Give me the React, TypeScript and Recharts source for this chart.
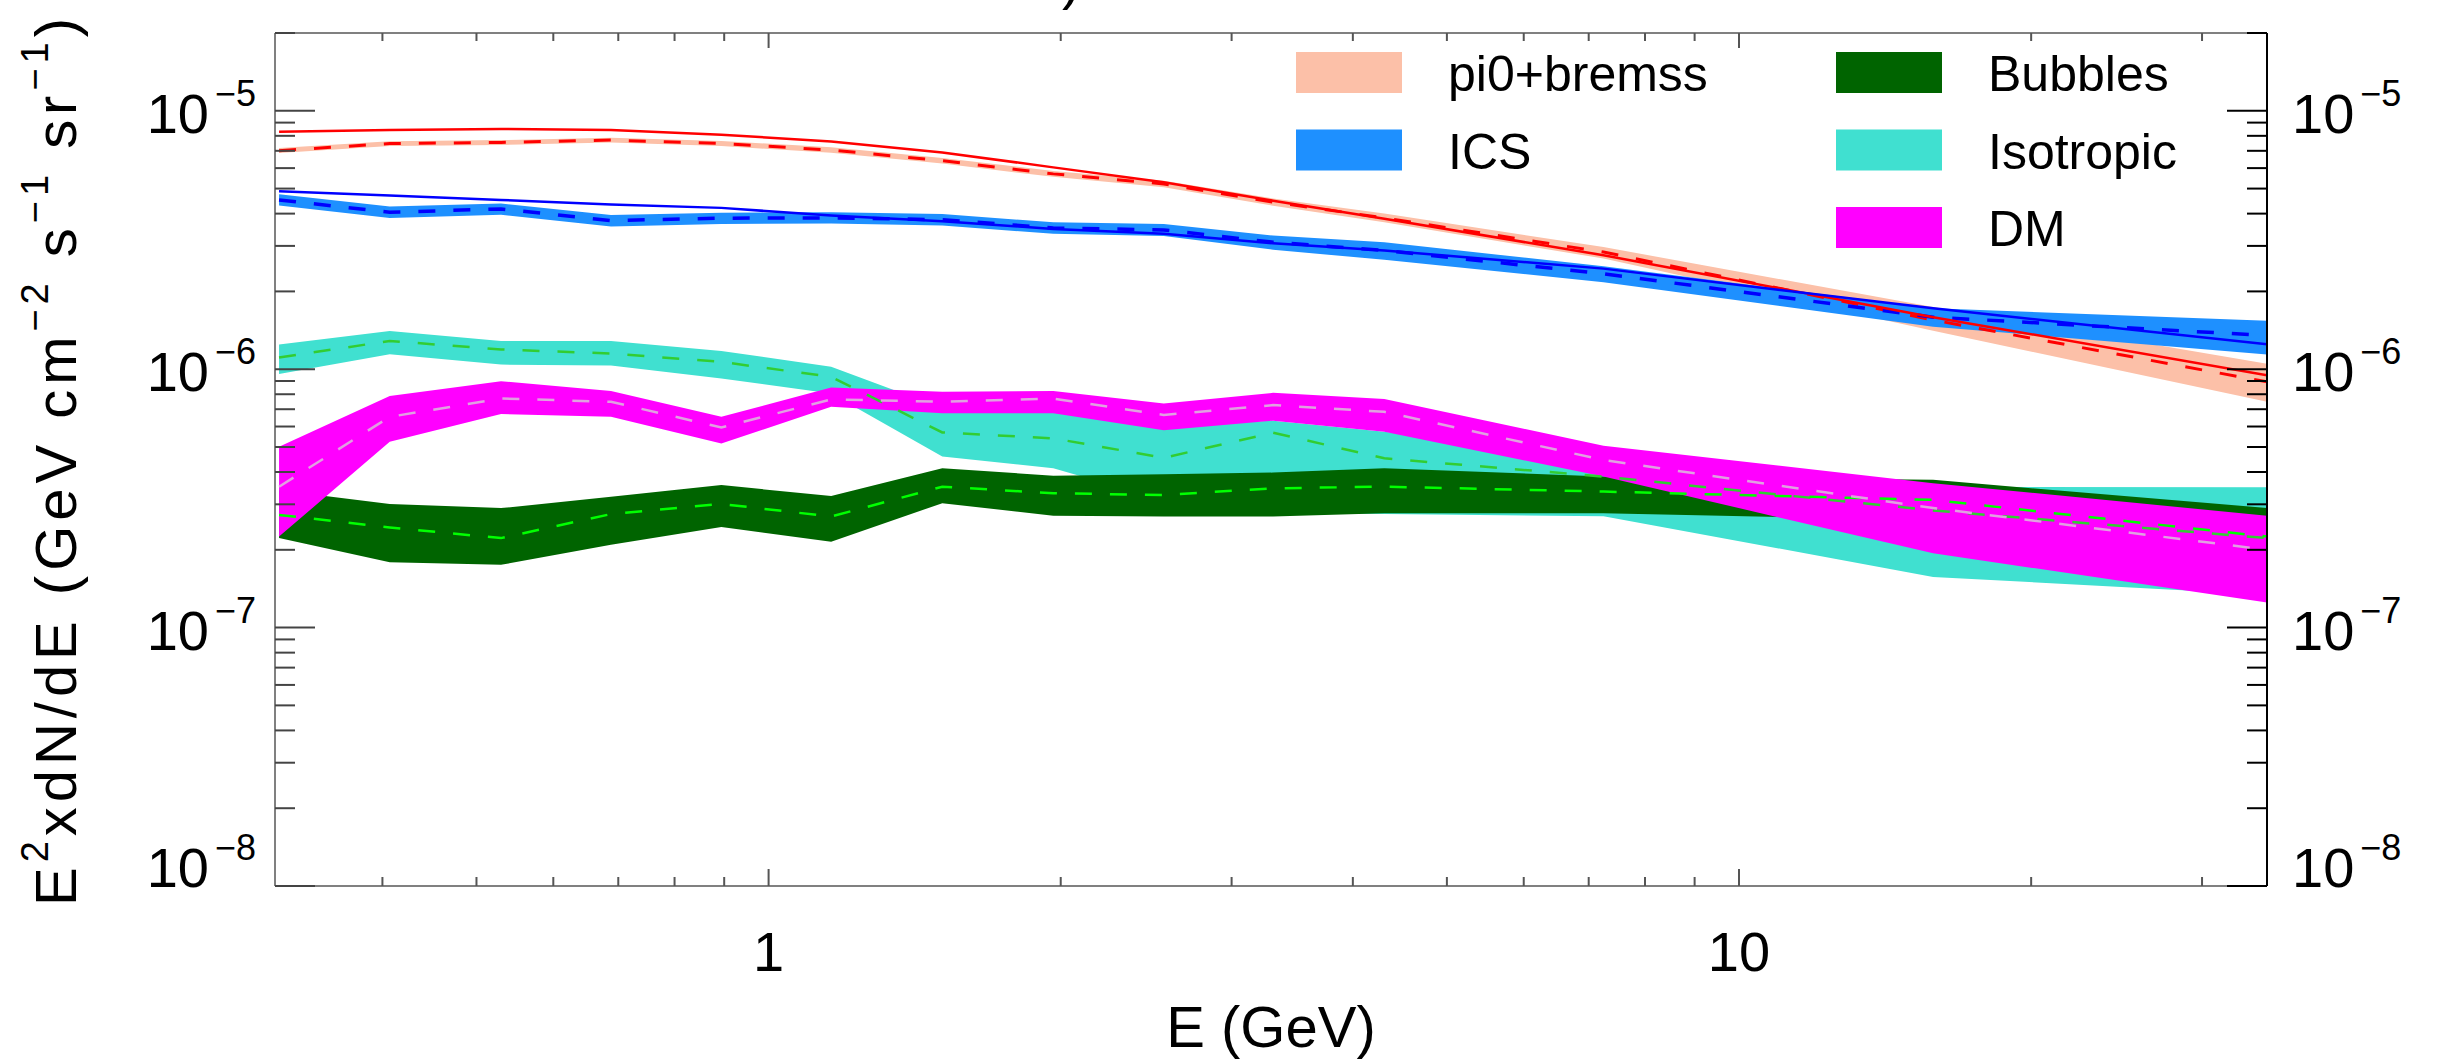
import React from "react";
import { ComposedChart, Area, Line, XAxis, YAxis } from "recharts";

// energy bins (GeV)
const energy = [0.313, 0.407, 0.53, 0.688, 0.894, 1.16, 1.51, 1.965, 2.554, 3.31, 4.31, 7.25, 15.85, 35];

// pi0 + bremss: model (solid), fit (dashed), band
const pi0Model = [8.3e-6, 8.42e-6, 8.5e-6, 8.42e-6, 8.08e-6, 7.61e-6, 6.9e-6, 6.04e-6, 5.29e-6, 4.49e-6, 3.82e-6, 2.76e-6, 1.59e-6, 9.48e-7];
const pi0Fit = [7.01e-6, 7.47e-6, 7.54e-6, 7.7e-6, 7.47e-6, 7.05e-6, 6.41e-6, 5.7e-6, 5.21e-6, 4.43e-6, 3.85e-6, 2.84e-6, 1.55e-6, 8.93e-7];
const pi0Hi = [7.17e-6, 7.63e-6, 7.7e-6, 7.87e-6, 7.64e-6, 7.22e-6, 6.57e-6, 5.85e-6, 5.36e-6, 4.58e-6, 4.0e-6, 2.97e-6, 1.74e-6, 1.05e-6];
const pi0Lo = [6.86e-6, 7.31e-6, 7.38e-6, 7.54e-6, 7.3e-6, 6.88e-6, 6.25e-6, 5.55e-6, 5.06e-6, 4.29e-6, 3.7e-6, 2.68e-6, 1.41e-6, 7.48e-7];

// ICS
const icsModel = [4.88e-6, 4.7e-6, 4.52e-6, 4.34e-6, 4.21e-6, 3.93e-6, 3.74e-6, 3.49e-6, 3.34e-6, 3.07e-6, 2.88e-6, 2.45e-6, 1.72e-6, 1.25e-6];
const icsFit = [4.52e-6, 4.05e-6, 4.17e-6, 3.76e-6, 3.84e-6, 3.85e-6, 3.79e-6, 3.52e-6, 3.46e-6, 3.1e-6, 2.88e-6, 2.34e-6, 1.59e-6, 1.35e-6];
const icsHi = [4.75e-6, 4.26e-6, 4.38e-6, 3.95e-6, 4.03e-6, 4.05e-6, 3.99e-6, 3.7e-6, 3.65e-6, 3.29e-6, 3.1e-6, 2.5e-6, 1.72e-6, 1.54e-6];
const icsLo = [4.3e-6, 3.85e-6, 3.96e-6, 3.57e-6, 3.65e-6, 3.66e-6, 3.6e-6, 3.34e-6, 3.28e-6, 2.9e-6, 2.65e-6, 2.17e-6, 1.46e-6, 1.14e-6];

// Isotropic
const isoMid = [1.11e-6, 1.286e-6, 1.192e-6, 1.15e-6, 1.067e-6, 9.34e-7, 5.69e-7, 5.4e-7, 4.54e-7, 5.68e-7, 4.52e-7, 3.84e-7, 2.84e-7, 2.22e-7];
const isoHi = [1.245e-6, 1.405e-6, 1.286e-6, 1.286e-6, 1.177e-6, 1.021e-6, 7.07e-7, 7.07e-7, 6.08e-7, 6.32e-7, 5.73e-7, 4.63e-7, 3.51e-7, 3.49e-7];
const isoLo = [9.57e-7, 1.142e-6, 1.042e-6, 1.034e-6, 9.21e-7, 8.06e-7, 4.59e-7, 4.14e-7, 3.12e-7, 2.78e-7, 2.75e-7, 2.7e-7, 1.57e-7, 1.34e-7];

// Bubbles
const bubMid = [2.73e-7, 2.44e-7, 2.22e-7, 2.75e-7, 3.01e-7, 2.69e-7, 3.51e-7, 3.31e-7, 3.26e-7, 3.46e-7, 3.51e-7, 3.36e-7, 3.12e-7, 2.25e-7];
const bubHi = [3.4e-7, 3.01e-7, 2.9e-7, 3.21e-7, 3.56e-7, 3.23e-7, 4.14e-7, 3.87e-7, 3.92e-7, 3.98e-7, 4.14e-7, 3.84e-7, 3.73e-7, 2.9e-7];
const bubLo = [2.22e-7, 1.79e-7, 1.75e-7, 2.09e-7, 2.45e-7, 2.15e-7, 3.03e-7, 2.71e-7, 2.69e-7, 2.69e-7, 2.77e-7, 2.77e-7, 2.6e-7, 1.75e-7];

// DM
const dmMid = [3.51e-7, 6.54e-7, 7.7e-7, 7.48e-7, 5.95e-7, 7.64e-7, 7.48e-7, 7.7e-7, 6.65e-7, 7.26e-7, 6.84e-7, 4.45e-7, 2.9e-7, 2.0e-7];
const dmHi = [5.01e-7, 7.88e-7, 8.99e-7, 8.24e-7, 6.54e-7, 8.5e-7, 8.17e-7, 8.24e-7, 7.37e-7, 8.1e-7, 7.66e-7, 5.06e-7, 3.62e-7, 2.71e-7];
const dmLo = [2.25e-7, 5.24e-7, 6.71e-7, 6.54e-7, 5.16e-7, 7.15e-7, 6.75e-7, 6.75e-7, 5.81e-7, 6.32e-7, 5.73e-7, 3.84e-7, 1.94e-7, 1.25e-7];

const xTicks = [0.4, 0.5, 0.6, 0.7, 0.8, 0.9, 1, 2, 3, 4, 5, 6, 7, 8, 9, 10, 20, 30];
const yDecades = [-8, -7, -6, -5];
const yMantissas = [1, 2, 3, 4, 5, 6, 7, 8, 9];
const yTicks = yDecades
  .flatMap((d) => yMantissas.map((m) => m * Math.pow(10, d)))
  .filter((v) => v <= 2.01e-5);

const legendItems = [
  { name: "pi0+bremss", color: "#FCC0A8", col: 0, row: 0 },
  { name: "ICS", color: "#1E90FF", col: 0, row: 1 },
  { name: "Bubbles", color: "#006400", col: 1, row: 0 },
  { name: "Isotropic", color: "#40E0D0", col: 1, row: 1 },
  { name: "DM", color: "#FF00FF", col: 1, row: 2 },
];

const rows = energy.map((e, i) => ({
  e,
  pi0Band: [pi0Lo[i], pi0Hi[i]],
  icsBand: [icsLo[i], icsHi[i]],
  isoBand: [isoLo[i], isoHi[i]],
  bubBand: [bubLo[i], bubHi[i]],
  dmBand: [dmLo[i], dmHi[i]],
  pi0Model: pi0Model[i],
  pi0Fit: pi0Fit[i],
  icsModel: icsModel[i],
  icsFit: icsFit[i],
  isoMid: isoMid[i],
  bubMid: bubMid[i],
  dmMid: dmMid[i],
}));

const FONT = "'Liberation Sans', Arial, sans-serif";
const W = 2445;
const H = 1062;

const isDecade = (v: number) => Math.abs(Math.log10(v) - Math.round(Math.log10(v))) < 1e-6;
const expOf = (v: number) => Math.round(Math.log10(v));
// the lowest label sits on its tick, the others are centred a bit below it
const labelDrop = (v: number) => (expOf(v) === -8 ? 1 : 22);

const Power = ({ x, y, v, anchor }: any) => (
  <text x={x} y={y} textAnchor={anchor} fontFamily={FONT} fontSize={56} fill="#000">
    10
    <tspan dx={6} dy={-27} fontSize={36}>
      {"\u2212" + Math.abs(expOf(v))}
    </tspan>
  </text>
);

const LeftTick = ({ x, y, payload }: any) => {
  const v = payload.value;
  const major = isDecade(v);
  return (
    <g>
      <line x1={x} x2={x + (major ? 40 : 20)} y1={y} y2={y} stroke="#444" strokeWidth={2} />
      {major && <Power x={x - 19} y={y + labelDrop(v)} v={v} anchor="end" />}
    </g>
  );
};

const RightTick = ({ x, y, payload }: any) => {
  const v = payload.value;
  const major = isDecade(v);
  return (
    <g>
      <line x1={x} x2={x - (major ? 40 : 20)} y1={y} y2={y} stroke="#000" strokeWidth={2} />
      {major && <Power x={x + 25} y={y + labelDrop(v)} v={v} anchor="start" />}
    </g>
  );
};

const BottomTick = ({ x, y, payload }: any) => {
  const v = payload.value;
  const major = isDecade(v);
  return (
    <g>
      <line x1={x} x2={x} y1={y} y2={y - (major ? 17 : 9)} stroke="#555" strokeWidth={2} />
      {major && (
        <text x={x} y={y + 85} textAnchor="middle" fontFamily={FONT} fontSize={56} fill="#000">
          {String(v)}
        </text>
      )}
    </g>
  );
};

const TopTick = ({ x, y, payload }: any) => {
  const major = isDecade(payload.value);
  return <line x1={x} x2={x} y1={y} y2={y + (major ? 15 : 8)} stroke="#555" strokeWidth={2} />;
};

const Overlay = () => (
  <svg width={W} height={H} style={{ position: "absolute", left: 0, top: 0, pointerEvents: "none" }}>
    {/* tail of a title clipped at the top */}
    <text x={1062} y={-2} fontFamily={FONT} fontSize={56} fill="#000">
      )
    </text>
    <text
      transform="rotate(-90, 76, 462)"
      x={76}
      y={462}
      textAnchor="middle"
      fontFamily={FONT}
      fontSize={58}
      fill="#000"
      textLength={888}
      lengthAdjust="spacing"
    >
      E<tspan dy={-28} fontSize={38}>2</tspan>
      <tspan dy={28}>xdN/dE (GeV cm</tspan>
      <tspan dy={-28} fontSize={38}>{"\u22122"}</tspan>
      <tspan dy={28}> s</tspan>
      <tspan dy={-28} fontSize={38}>{"\u22121"}</tspan>
      <tspan dy={28}> sr</tspan>
      <tspan dy={-28} fontSize={38}>{"\u22121"}</tspan>
      <tspan dy={28}>)</tspan>
    </text>
    <text x={1271} y={1047} textAnchor="middle" fontFamily={FONT} fontSize={58} fill="#000">
      E (GeV)
    </text>
    {legendItems.map((it) => {
      const sx = it.col === 0 ? 1296 : 1836;
      const sy = 52 + it.row * 77.5;
      return (
        <g key={it.name}>
          <rect x={sx} y={sy} width={106} height={41} fill={it.color} />
          <text x={sx + 152} y={sy + 39} fontFamily={FONT} fontSize={50} fill="#000">
            {it.name}
          </text>
        </g>
      );
    })}
  </svg>
);

const App = () => {
  return (
    <div style={{ position: "absolute", left: 0, top: 0, width: W, height: H, background: "#fff" }}>
      <ComposedChart
        width={W}
        height={H}
        data={rows}
        margin={{ top: 13, right: 78, bottom: 116, left: 175 }}
      >
        <XAxis
          xAxisId="b"
          dataKey="e"
          type="number"
          scale="log"
          domain={[0.31, 35]}
          allowDataOverflow
          ticks={xTicks}
          interval={0}
          tick={<BottomTick />}
          tickLine={false}
          tickSize={0}
          tickMargin={0}
          axisLine={{ stroke: "#808080", strokeWidth: 2 }}
          height={60}
        />
        <XAxis
          xAxisId="t"
          orientation="top"
          dataKey="e"
          type="number"
          scale="log"
          domain={[0.31, 35]}
          allowDataOverflow
          ticks={xTicks}
          interval={0}
          tick={<TopTick />}
          tickLine={false}
          tickSize={0}
          tickMargin={0}
          axisLine={{ stroke: "#808080", strokeWidth: 2 }}
          height={20}
        />
        <YAxis
          yAxisId="l"
          type="number"
          scale="log"
          domain={[1e-8, 2e-5]}
          allowDataOverflow
          ticks={yTicks}
          interval={0}
          tick={<LeftTick />}
          tickLine={false}
          tickSize={0}
          tickMargin={0}
          axisLine={{ stroke: "#808080", strokeWidth: 2 }}
          width={100}
        />
        <YAxis
          yAxisId="r"
          orientation="right"
          type="number"
          scale="log"
          domain={[1e-8, 2e-5]}
          allowDataOverflow
          ticks={yTicks}
          interval={0}
          tick={<RightTick />}
          tickLine={false}
          tickSize={0}
          tickMargin={0}
          axisLine={{ stroke: "#000", strokeWidth: 2 }}
          width={100}
        />

        <Area xAxisId="b" yAxisId="l" type="linear" dataKey="pi0Band" stroke="none" fill="#FCC0A8" fillOpacity={1} isAnimationActive={false} />
        <Area xAxisId="b" yAxisId="l" type="linear" dataKey="icsBand" stroke="none" fill="#1E90FF" fillOpacity={1} isAnimationActive={false} />
        <Area xAxisId="b" yAxisId="l" type="linear" dataKey="isoBand" stroke="none" fill="#40E0D0" fillOpacity={1} isAnimationActive={false} />
        <Area xAxisId="b" yAxisId="l" type="linear" dataKey="bubBand" stroke="none" fill="#006400" fillOpacity={1} isAnimationActive={false} />
        <Area xAxisId="b" yAxisId="l" type="linear" dataKey="dmBand" stroke="none" fill="#FF00FF" fillOpacity={1} isAnimationActive={false} />

        <Line xAxisId="b" yAxisId="l" type="linear" dataKey="pi0Fit" stroke="#FF0000" strokeWidth={3} strokeDasharray="17 18" dot={false} isAnimationActive={false} />
        <Line xAxisId="b" yAxisId="l" type="linear" dataKey="icsFit" stroke="#0000FF" strokeWidth={3.5} strokeDasharray="17 18" dot={false} isAnimationActive={false} />
        <Line xAxisId="b" yAxisId="l" type="linear" dataKey="isoMid" stroke="#32CD32" strokeWidth={2.5} strokeDasharray="17 18" dot={false} isAnimationActive={false} />
        <Line xAxisId="b" yAxisId="l" type="linear" dataKey="bubMid" stroke="#00FF00" strokeWidth={2.5} strokeDasharray="17 18" dot={false} isAnimationActive={false} />
        <Line xAxisId="b" yAxisId="l" type="linear" dataKey="dmMid" stroke="#E0A0E0" strokeWidth={2.5} strokeDasharray="17 18" dot={false} isAnimationActive={false} />
        <Line xAxisId="b" yAxisId="l" type="linear" dataKey="pi0Model" stroke="#FF0000" strokeWidth={2.5} dot={false} isAnimationActive={false} />
        <Line xAxisId="b" yAxisId="l" type="linear" dataKey="icsModel" stroke="#0000FF" strokeWidth={2.5} dot={false} isAnimationActive={false} />
        {/* keeps the top and right axes bound to a series */}
        <Line xAxisId="t" yAxisId="r" type="linear" dataKey="pi0Model" stroke="none" dot={false} isAnimationActive={false} />
      </ComposedChart>
      <Overlay />
    </div>
  );
};

export default App;
